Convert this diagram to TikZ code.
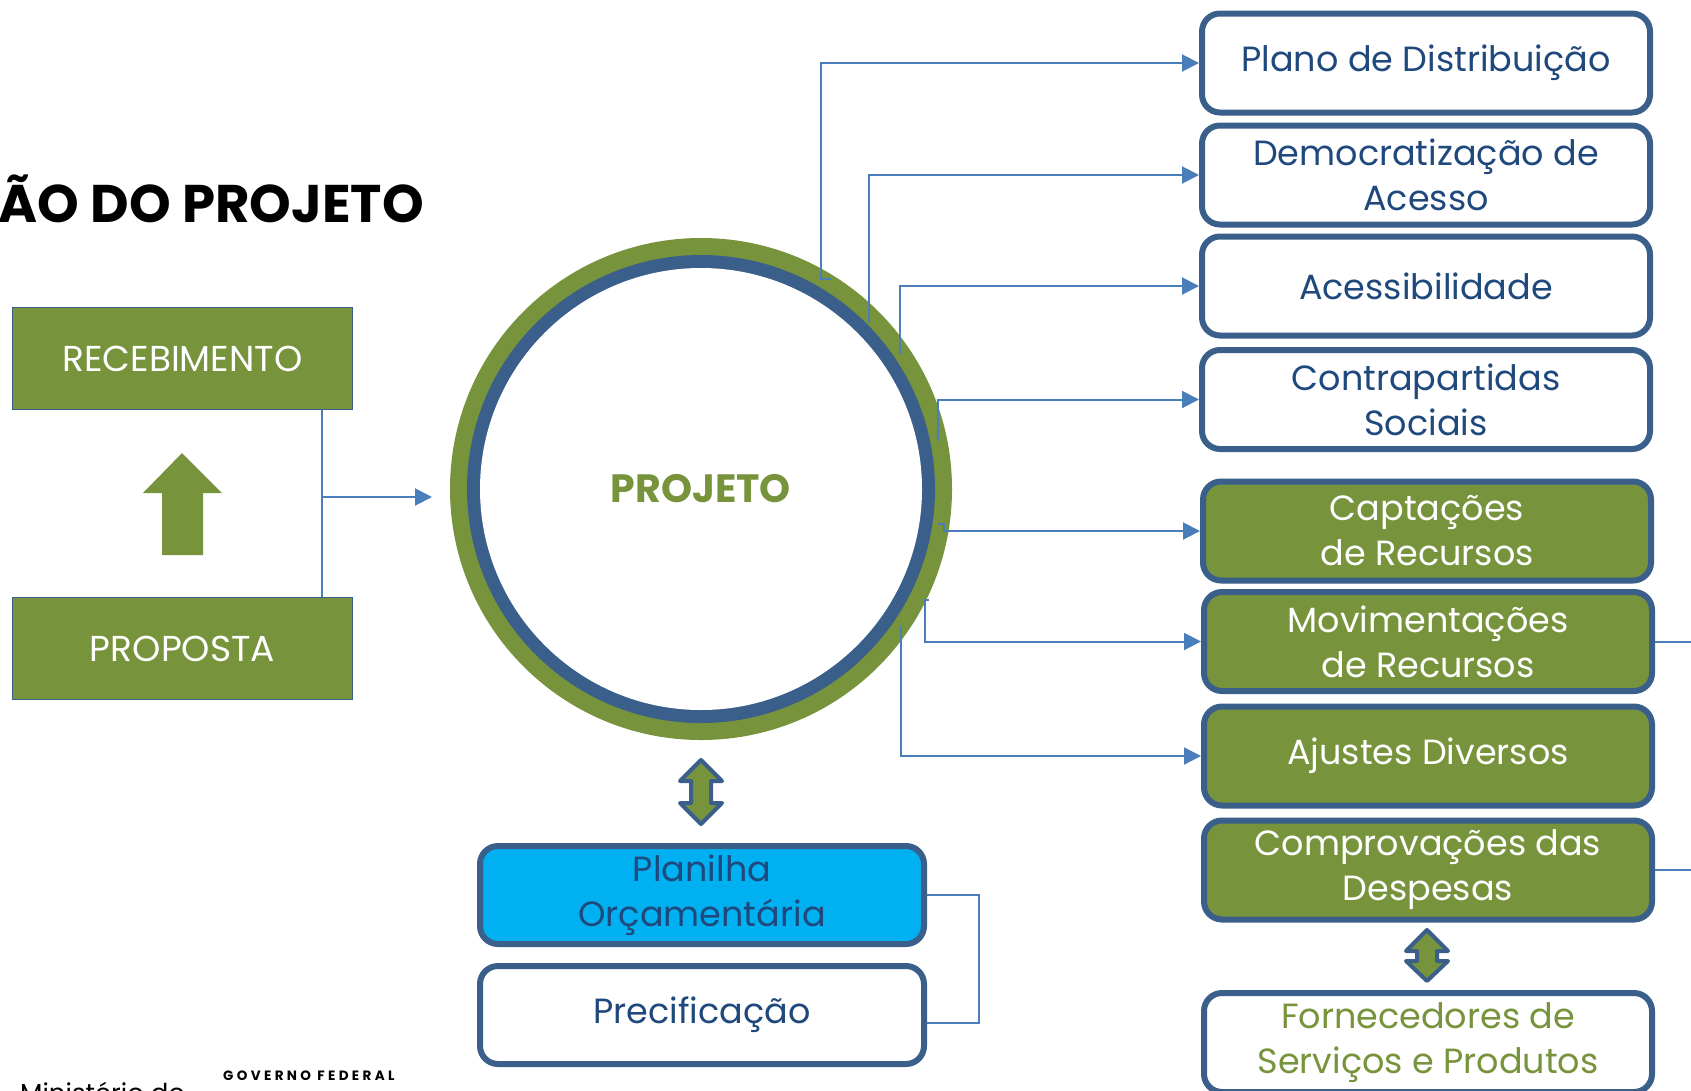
\documentclass[tikz,border=0pt]{standalone}
\usepackage{fontspec}
\setmainfont{Poppins}
\usetikzlibrary{arrows.meta,calc}
\definecolor{olive}{HTML}{77933C}
\definecolor{bord}{HTML}{3A5F8B}
\definecolor{connblue}{HTML}{4A7EBB}
\definecolor{txtb}{HTML}{1F497D}
\definecolor{cyanb}{HTML}{00B0F0}
\begin{document}
\begin{tikzpicture}[x=1pt,y=-1pt,
  rbox/.style={draw=bord, line width=6pt, rounded corners=18pt, minimum width=448pt, minimum height=99pt, align=center, font=\fontsize{35}{45}\selectfont, inner sep=0pt},
  wbox/.style={rbox, fill=white, text=txtb},
  gbox/.style={rbox, fill=olive, text=white},
  pbox/.style={rbox, minimum width=444pt, minimum height=98pt, text=txtb},
  lbox/.style={draw=bord, line width=1pt, fill=olive, text=white, minimum width=340pt, minimum height=102pt, inner sep=0pt, font=\fontsize{36}{40}\selectfont},
  conn/.style={draw=connblue, line width=2pt},
  arr/.style={conn, -{Triangle[length=17pt,width=17pt]}},
  darr/.style={draw=bord, line width=4pt, fill=olive, line join=round},
]
\useasboundingbox (0,0) rectangle (1691,1090);
\fill[white] (0,0) rectangle (1691,1090);

% title and footer
\node[anchor=base east, inner sep=0pt, font=\bfseries\fontsize{53}{53}\selectfont] (title) at (424,222) {ÃO DO PROJETO};
\node[anchor=base west, inner sep=0pt, font=\bfseries\fontsize{13.5}{13}\selectfont\addfontfeature{LetterSpace=25}] (gov) at (223,1080) {GOVERNO FEDERAL};
\node[anchor=base west, inner sep=0pt, font=\fontsize{26}{26}\selectfont] (min) at (20,1102) {Ministério do};

% left boxes
\node[lbox] (rec) at (182.5,358.5) {RECEBIMENTO};
\node[lbox] (prop) at (182.5,648.5) {PROPOSTA};
\fill[olive] (182,453) -- (222,493) -- (203,493) -- (203,555) -- (162,555) -- (162,493) -- (143,493) -- cycle;

% circle
\fill[olive] (701,489) circle (251);
\fill[bord] (701,489) circle (234);
\fill[white] (701,489) circle (221);
\node[text=olive, font=\bfseries\fontsize{39.5}{40}\selectfont] (proj) at (701,489) {PROJETO};

% left connector
\coordinate (bus) at (322,497);
\coordinate (ptip) at (432,497);
\draw[conn] (rec.south -| bus) -- (prop.north -| bus);
\draw[arr] (bus) -- (ptip);

% right boxes
\node[wbox] (b1) at (1426,63) {Plano de Distribuição};
\node[wbox] (b2) at (1426,175) {Democratização de\\Acesso};
\node[wbox] (b3) at (1426,286) {Acessibilidade};
\node[wbox] (b4) at (1426,399.5) {Contrapartidas\\Sociais};
\node[gbox] (b5) at (1427,531) {Captações\\de Recursos};
\node[gbox] (b6) at (1428,641.5) {Movimentações\\de Recursos};
\node[gbox] (b7) at (1428,756) {Ajustes Diversos};
\node[gbox] (b8) at (1428,870) {Comprovações das\\Despesas};
\node[wbox, text=olive] (b9) at (1428,1042.5) {Fornecedores de\\Serviços e Produtos};

% connectors from circle
\coordinate (s1) at (831,279);
\coordinate (s2) at (869,323);
\coordinate (s3) at (900,354);
\coordinate (s4) at (938,441);
\coordinate (s5) at (938,524);
\coordinate (s6) at (929,600);
\coordinate (s7) at (901,626);
\draw[arr] (s1) -- ++(-10,0) |- (b1.west);
\draw[arr] (s2) |- (b2.west);
\draw[arr] (s3) |- (b3.west);
\draw[arr] (s4) |- (b4.west);
\draw[arr] (s5) -- ++(6,0) |- (b5.west);
\draw[arr] (s6) -- ++(-4,0) |- (b6.west);
\draw[arr] (s7) |- (b7.west);

% right edge lines
\coordinate (edge) at (1691,0);
\draw[conn] (b6.east) -- (b6.east -| edge);
\draw[conn] (b8.east) -- (b8.east -| edge);

% double arrows
\draw[darr] (701,760) -- (722,781) -- (711,781) -- (711,803) -- (722,803) -- (701,824) -- (680,803) -- (691,803) -- (691,781) -- (680,781) -- cycle;
\draw[darr] (1427,930) -- (1448,951) -- (1437,951) -- (1437,961) -- (1448,961) -- (1427,981) -- (1406,961) -- (1417,961) -- (1417,951) -- (1406,951) -- cycle;

% bottom boxes
\node[pbox, fill=cyanb] (plan) at (702,895) {Planilha\\Orçamentária};
\node[pbox, fill=white] (prec) at (702,1015) {Precificação};
\draw[conn] (plan.east) -- ++(52,0) |- ([yshift=-8pt]prec.east);
\end{tikzpicture}
\end{document}
